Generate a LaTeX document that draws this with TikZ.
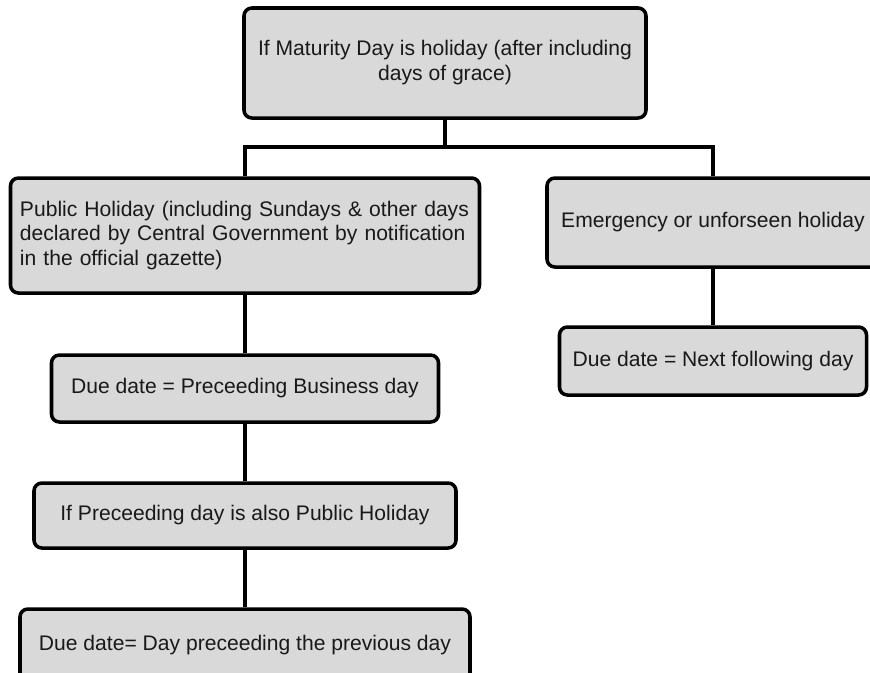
\documentclass[tikz,border=0pt]{standalone}
\usepackage{fontspec}
\setmainfont{Liberation Sans}
\begin{document}
\begin{tikzpicture}
		\tikzstyle{Box} = [rectangle, rounded corners=4.5pt, text centered, draw=black, line width=2pt, fill=black!15, text=black!90, font=\fontsize{12}{14.2}\selectfont]
		\tikzstyle{Line} = [line width=2pt, black]
		
		\useasboundingbox (0,0) rectangle (17.4,-13.44);
		\node (maturity) [Box, minimum width=8.04cm, minimum height=2.2cm, align=center] at (8.9,-1.26) {If Maturity Day is holiday (after including\\days of grace)};
		\node (public) [Box, minimum width=9.38cm, minimum height=2.3cm, text width=9.0cm, align=left] at (4.9,-4.71) {Public Holiday (including Sundays \& other days\\declared by Central Government by notification\\in the official gazette)};
		\node (emergency) [Box, minimum width=6.64cm, minimum height=1.78cm] at (14.26,-4.45) {Emergency or unforseen holiday};
		\node (nextday) [Box, minimum width=6.14cm, minimum height=1.36cm] at (14.26,-7.22) {Due date = Next following day};
		\node (business) [Box, minimum width=7.74cm, minimum height=1.34cm] at (4.9,-7.77) {Due date = Preceeding Business day};
		\node (alsoholiday) [Box, minimum width=8.44cm, minimum height=1.3cm] at (4.9,-10.31) {If Preceeding day is also Public Holiday};
		\node (previous) [Box, minimum width=9.0cm, minimum height=1.44cm] at (4.9,-12.9) {Due date= Day preceeding the previous day};
		\coordinate (split) at (8.9,-2.94);
		
		\draw [Line] (maturity) -- (split);
		\draw [Line] (public) |- (split) -| (emergency);
		\draw [Line] (emergency) -- (nextday);
		\draw [Line] (public) -- (business);
		\draw [Line] (business) -- (alsoholiday);
		\draw [Line] (alsoholiday) -- (previous);
\end{tikzpicture}
\end{document}
